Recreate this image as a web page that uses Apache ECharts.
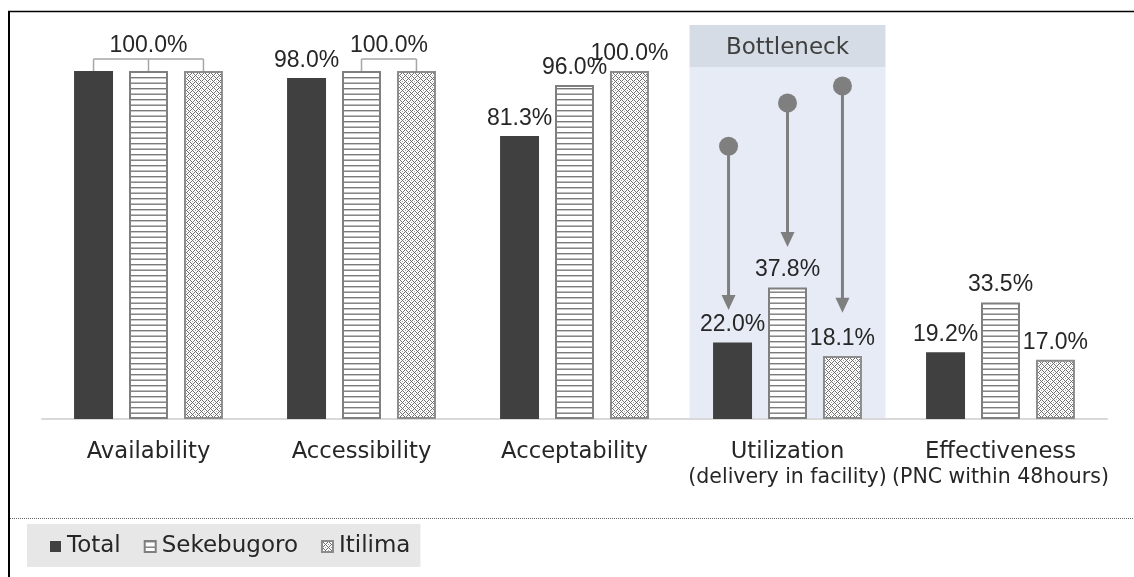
<!DOCTYPE html>
<html><head><meta charset="utf-8">
<script src="https://cdn.jsdelivr.net/npm/echarts@6/dist/echarts.min.js"></script>
<style>html,body{margin:0;padding:0;background:#fff}#c{width:1134px;height:577px}</style>
</head><body><div id="c"></div>
<script>
const categories = ['Availability', 'Accessibility', 'Acceptability', 'Utilization', 'Effectiveness'];
const subtitles = ['', '', '', '(delivery in facility)', '(PNC within 48hours)'];
const seriesNames = ['Total', 'Sekebugoro', 'Itilima'];
const totalValues = [100.0, 98.0, 81.3, 22.0, 19.2];
const sekebugoroValues = [100.0, 100.0, 96.0, 37.8, 33.5];
const itilimaValues = [100.0, 100.0, 100.0, 18.1, 17.0];
// shared bracket labels: [category index, first series, last series]
const sharedLabels = [[0, 0, 2], [1, 1, 2]];
const sharedLabelTexts = ['100.0%', '100.0%'];
// highlighted region: [category index]
const bottleneckCats = [[3]];
const bottleneckTitle = 'Bottleneck';
// arrows: [category index, series index, start value, end value]
const arrows = [[3, 0, 78.4, 31.3], [3, 1, 90.8, 49.4], [3, 2, 95.7, 30.5]];

const allValues = [totalValues, sekebugoroValues, itilimaValues];
const BAR_W = 0.183, BAR_GAP = 0.41;
const FONT = 'DejaVu Sans';
const LFONT = 'Liberation Sans';
const TXT = '#262626';

function stripeCanvas() {
  const c = document.createElement('canvas'); c.width = 8; c.height = 11;
  const g = c.getContext('2d');
  g.fillStyle = '#fff'; g.fillRect(0, 0, 8, 11);
  g.fillStyle = '#7a7a7a'; g.fillRect(0, 0, 8, 1.4); g.fillRect(0, 5.5, 8, 1.4);
  return c;
}
function dotCanvas() {
  const n = 6; const c = document.createElement('canvas'); c.width = n; c.height = n;
  const g = c.getContext('2d');
  g.fillStyle = '#fff'; g.fillRect(0, 0, n, n);
  for (let x = 0; x < n; x++) for (let y = 0; y < n; y++) {
    if ((x + y) % n === 0 || (x - y + n) % n === 0) { g.fillStyle = '#6e6e6e'; g.fillRect(x, y, 1, 1); }
  }
  g.fillStyle = '#a0a0a0'; g.fillRect(3, 0, 1, 1); g.fillRect(0, 3, 1, 1);
  return c;
}

function hiddenLabel(si, ci) {
  return sharedLabels.some(s => s[0] === ci && si >= s[1] && si <= s[2]);
}
function barCenter(api, cat, si) {
  const c = api.coord([cat, 0]);
  const band = api.size([1, 0])[0];
  const w = band * BAR_W;
  return c[0] + (si - 1) * w * (1 + BAR_GAP);
}

const labelBase = {
  show: true, position: 'top', distance: 6, fontSize: 23, fontFamily: LFONT, color: TXT,
  formatter: p => p.value.toFixed(1) + '%'
};
function barData(vals, si) {
  return vals.map((v, ci) => hiddenLabel(si, ci) ? { value: v, label: { show: false } } : v);
}

const chart = echarts.init(document.getElementById('c'), null, { renderer: 'canvas' });
const option = {
  backgroundColor: '#fff',
  animation: false,
  grid: { left: 42, right: 27, top: 71, bottom: 158 },
  xAxis: {
    type: 'category', data: categories,
    axisLine: { lineStyle: { color: '#d9d9d9', width: 2 } },
    axisTick: { show: false },
    axisLabel: {
      interval: 0, margin: 20,
      formatter: (v, i) => subtitles[i] ? '{a|' + v + '}\n{b|' + subtitles[i] + '}' : '{a|' + v + '}',
      rich: {
        a: { fontSize: 22.7, lineHeight: 26, fontFamily: FONT, color: TXT },
        b: { fontSize: 20.5, lineHeight: 26, fontFamily: FONT, color: TXT }
      }
    }
  },
  yAxis: { type: 'value', min: 0, max: 100, show: false },
  legend: {
    data: seriesNames, left: 27, top: 524, icon: 'rect', itemWidth: 11, itemHeight: 11,
    itemGap: 23, backgroundColor: '#e7e7e7', padding: [11, 10, 9, 23],
    textStyle: { fontSize: 23, fontFamily: FONT, color: TXT, padding: [0, 0, 0, 1] }
  },
  graphic: [
    { type: 'line', shape: { x1: 9, y1: 11, x2: 9, y2: 577 }, style: { stroke: '#000', lineWidth: 2 } },
    { type: 'line', shape: { x1: 8, y1: 11.5, x2: 1134, y2: 11.5 }, style: { stroke: '#000', lineWidth: 1.5 } },
    { type: 'line', shape: { x1: 10, y1: 518.5, x2: 1134, y2: 518.5 }, style: { stroke: '#666', lineWidth: 1, lineDash: [1, 1] } }
  ],
  series: [
    {
      type: 'custom', name: 'bottleneck', z: 0, silent: true, data: bottleneckCats,
      renderItem: (params, api) => {
        const cat = api.value(0);
        const c = api.coord([cat, 0]);
        const band = api.size([1, 0])[0];
        const w = band * 0.92;
        const x = c[0] - w / 2;
        const yTop = api.coord([cat, 100])[1];
        const boxTop = yTop - 4, headTop = boxTop - 42;
        return {
          type: 'group', children: [
            { type: 'rect', shape: { x: x, y: boxTop, width: w, height: c[1] - boxTop }, style: { fill: '#e6ebf6' } },
            { type: 'rect', shape: { x: x, y: headTop, width: w, height: 42 }, style: { fill: '#d6dce5' } },
            { type: 'text', x: c[0], y: headTop + 23, style: { text: bottleneckTitle, fontSize: 23, fontFamily: FONT, fill: '#404040', align: 'center', verticalAlign: 'middle' } }
          ]
        };
      }
    },
    {
      type: 'bar', name: seriesNames[0], data: barData(totalValues, 0), barWidth: (BAR_W * 100) + '%', barGap: (BAR_GAP * 100) + '%', z: 2,
      itemStyle: { color: '#404040' }, label: labelBase
    },
    {
      type: 'bar', name: seriesNames[1], data: barData(sekebugoroValues, 1), barWidth: (BAR_W * 100) + '%', barGap: (BAR_GAP * 100) + '%', z: 2,
      itemStyle: { color: { image: stripeCanvas(), repeat: 'repeat' }, borderColor: '#7f7f7f', borderWidth: 2 }, label: labelBase
    },
    {
      type: 'bar', name: seriesNames[2], data: barData(itilimaValues, 2), barWidth: (BAR_W * 100) + '%', barGap: (BAR_GAP * 100) + '%', z: 2,
      itemStyle: { color: { image: dotCanvas(), repeat: 'repeat' }, borderColor: '#8c8c8c', borderWidth: 2 }, label: labelBase
    },
    {
      type: 'custom', name: 'brackets', z: 3, silent: true, data: sharedLabels,
      renderItem: (params, api) => {
        const cat = api.value(0), s0 = api.value(1), s1 = api.value(2);
        const x0 = barCenter(api, cat, s0), x1 = barCenter(api, cat, s1);
        const yLine = api.coord([cat, 100])[1] - 12;
        const children = [{ type: 'line', shape: { x1: x0, y1: yLine, x2: x1, y2: yLine }, style: { stroke: '#a6a6a6', lineWidth: 1.5 } }];
        for (let s = s0; s <= s1; s++) {
          const x = barCenter(api, cat, s);
          const yb = api.coord([cat, allValues[s][cat]])[1];
          children.push({ type: 'line', shape: { x1: x, y1: yLine, x2: x, y2: yb }, style: { stroke: '#a6a6a6', lineWidth: 1.5 } });
        }
        children.push({ type: 'text', x: (x0 + x1) / 2, y: yLine - 2, style: { text: sharedLabelTexts[params.dataIndex], fontSize: 23, fontFamily: LFONT, fill: TXT, align: 'center', verticalAlign: 'bottom' } });
        return { type: 'group', children: children };
      }
    },
    {
      type: 'custom', name: 'arrows', z: 3, silent: true, data: arrows,
      renderItem: (params, api) => {
        const cat = api.value(0), si = api.value(1);
        const x = barCenter(api, cat, si) - (si === 0 ? 4 : 0);
        const y0 = api.coord([cat, api.value(2)])[1];
        const y1 = api.coord([cat, api.value(3)])[1];
        const col = '#7f7f7f';
        return {
          type: 'group', children: [
            { type: 'line', shape: { x1: x, y1: y0, x2: x, y2: y1 - 14 }, style: { stroke: col, lineWidth: 3 } },
            { type: 'circle', shape: { cx: x, cy: y0, r: 9.5 }, style: { fill: col } },
            { type: 'polygon', shape: { points: [[x - 7, y1 - 15], [x + 7, y1 - 15], [x, y1]] }, style: { fill: col } }
          ]
        };
      }
    }
  ]
};
chart.setOption(option);
</script>
</body></html>
